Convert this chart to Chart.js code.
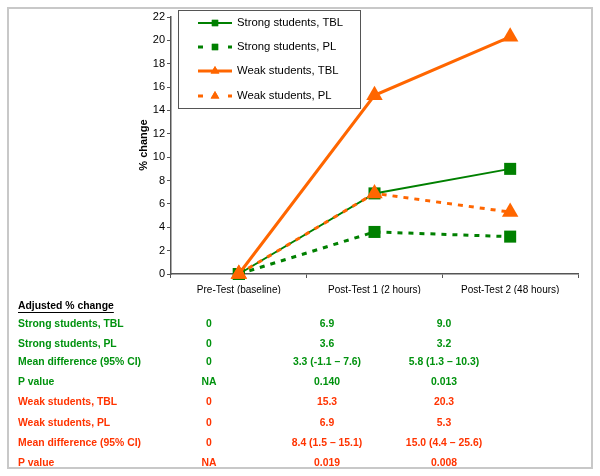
<!DOCTYPE html>
<html>
<head>
<meta charset="utf-8">
<script src="https://cdn.jsdelivr.net/npm/chart.js@4/dist/chart.umd.min.js"></script>
<style>
  html, body { margin: 0; padding: 0; background: #fff; }
  #wrap { position: relative; width: 600px; height: 476px; }
</style>
</head>
<body>
<div id="wrap"><canvas id="canvas"></canvas></div>
<script>
var categories = ['Pre-Test (baseline)', 'Post-Test 1 (2 hours)', 'Post-Test 2 (48 hours)'];
var seriesNames = ['Strong students, TBL', 'Strong students, PL', 'Weak students, TBL', 'Weak students, PL'];
var strongTBL = [0, 6.9, 9.0];
var strongPL = [0, 3.6, 3.2];
var weakTBL = [0, 15.3, 20.3];
var weakPL = [0, 6.9, 5.3];
var yTicks = [0, 2, 4, 6, 8, 10, 12, 14, 16, 18, 20, 22];

// table under the chart
var tableTitle = 'Adjusted % change';
var tableRows = [
  ['Strong students, TBL', '0', '6.9', '9.0'],
  ['Strong students, PL', '0', '3.6', '3.2'],
  ['Mean difference (95% CI)', '0', '3.3 (-1.1 \u2013 7.6)', '5.8 (1.3 \u2013 10.3)'],
  ['P value', 'NA', '0.140', '0.013'],
  ['Weak students, TBL', '0', '15.3', '20.3'],
  ['Weak students, PL', '0', '6.9', '5.3'],
  ['Mean difference (95% CI)', '0', '8.4 (1.5 \u2013 15.1)', '15.0 (4.4 \u2013 25.6)'],
  ['P value', 'NA', '0.019', '0.008']
];

var green = '#008000';
var orange = '#FF6600';
var FONT = '"Liberation Sans", Arial, sans-serif';

var boxPlugin = {
  id: 'extras',
  afterDraw: function(chart) {
    var ctx = chart.ctx;
    ctx.save();
    // outer frame
    ctx.strokeStyle = '#c8c8c8';
    ctx.lineWidth = 2;
    ctx.strokeRect(8, 8, 584, 460);

    // legend box
    ctx.fillStyle = '#fff';
    ctx.fillRect(178, 10, 182, 98);
    ctx.strokeStyle = '#555';
    ctx.lineWidth = 1;
    ctx.strokeRect(178.5, 10.5, 182, 98);
    var rowsY = [23, 47, 71, 96];
    chart.data.datasets.forEach(function(ds, i) {
      var y = rowsY[i];
      ctx.strokeStyle = ds.borderColor;
      ctx.lineWidth = ds.borderWidth;
      ctx.beginPath();
      if (ds.borderDash) {
        ctx.moveTo(198, y); ctx.lineTo(203, y);
        ctx.moveTo(228, y); ctx.lineTo(232, y);
      } else {
        ctx.moveTo(198, y); ctx.lineTo(232, y);
      }
      ctx.stroke();
      ctx.fillStyle = ds.backgroundColor;
      Chart.helpers.drawPoint(ctx, {pointStyle: ds.pointStyle, radius: ds.pointStyle === 'rect' ? 4.5 : 5, borderWidth: 0}, 215, y);
      ctx.fill();
      ctx.fillStyle = '#000';
      ctx.font = '11.3px ' + FONT;
      ctx.textAlign = 'left';
      ctx.textBaseline = 'middle';
      ctx.fillText(ds.label, 237, y);
    });

    // y axis title
    ctx.save();
    ctx.translate(144, 145);
    ctx.rotate(-Math.PI / 2);
    ctx.font = 'bold 11px ' + FONT;
    ctx.fillStyle = '#000';
    ctx.textAlign = 'center';
    ctx.textBaseline = 'middle';
    ctx.fillText('% change', 0, 0);
    ctx.restore();

    // table
    ctx.font = 'bold 10.4px ' + FONT;
    ctx.fillStyle = '#000';
    ctx.textAlign = 'left';
    ctx.textBaseline = 'middle';
    ctx.fillText(tableTitle, 18, 306);
    var w = ctx.measureText(tableTitle).width;
    ctx.fillRect(18, 312, w, 1);
    var rowY = [324, 344, 362, 382, 402, 423, 443, 463];
    var colX = [209, 327, 444];
    tableRows.forEach(function(row, i) {
      ctx.fillStyle = i < 4 ? '#00920e' : '#ff3300';
      ctx.textAlign = 'left';
      ctx.fillText(row[0], 18, rowY[i]);
      ctx.textAlign = 'center';
      for (var c = 1; c < row.length; c++) {
        ctx.fillText(row[c], colX[c - 1], rowY[i]);
      }
    });
    ctx.restore();
  }
};

var ctx = document.getElementById('canvas').getContext('2d');
var chart = new Chart(ctx, {
  type: 'line',
  plugins: [boxPlugin],
  data: {
    labels: categories,
    datasets: [
      {
        label: seriesNames[0], data: strongTBL,
        borderColor: green, backgroundColor: green, borderWidth: 2,
        pointStyle: 'rect', pointRadius: 8.5, pointBorderWidth: 0, order: 3, clip: false
      },
      {
        label: seriesNames[1], data: strongPL,
        borderColor: green, backgroundColor: green, borderWidth: 3, borderDash: [5, 6],
        pointStyle: 'rect', pointRadius: 8.5, pointBorderWidth: 0, order: 4, clip: false
      },
      {
        label: seriesNames[2], data: weakTBL,
        borderColor: orange, backgroundColor: orange, borderWidth: 3,
        pointStyle: 'triangle', pointRadius: 9.5, pointBorderWidth: 0, order: 1, clip: false
      },
      {
        label: seriesNames[3], data: weakPL,
        borderColor: orange, backgroundColor: orange, borderWidth: 3, borderDash: [5, 6],
        pointStyle: 'triangle', pointRadius: 9.5, pointBorderWidth: 0, order: 2, clip: false
      }
    ]
  },
  options: {
    responsive: true,
    maintainAspectRatio: false,
    animation: false,
    layout: { padding: { left: 0, top: 17, right: 22, bottom: 182 } },
    plugins: {
      legend: { display: false },
      tooltip: { enabled: false }
    },
    scales: {
      x: {
        offset: true,
        grid: { offset: true, drawOnChartArea: false, drawTicks: true, tickLength: 4, color: '#555' },
        border: { display: true, color: '#555', width: 1.5 },
        ticks: { color: '#000', font: { family: FONT, size: 10 }, padding: 6, maxRotation: 0 },
        afterFit: function(s) { s.height = 20; }
      },
      y: {
        min: 0, max: 22,
        afterBuildTicks: function(s) { s.ticks = yTicks.map(function(v) { return {value: v}; }); },
        grid: { drawOnChartArea: false, drawTicks: true, tickLength: 4, color: '#555' },
        border: { display: true, color: '#555', width: 1.5 },
        ticks: { color: '#000', font: { family: FONT, size: 11 }, padding: 2 },
        afterFit: function(s) { s.width = 171; }
      }
    }
  }
});
</script>
</body>
</html>
